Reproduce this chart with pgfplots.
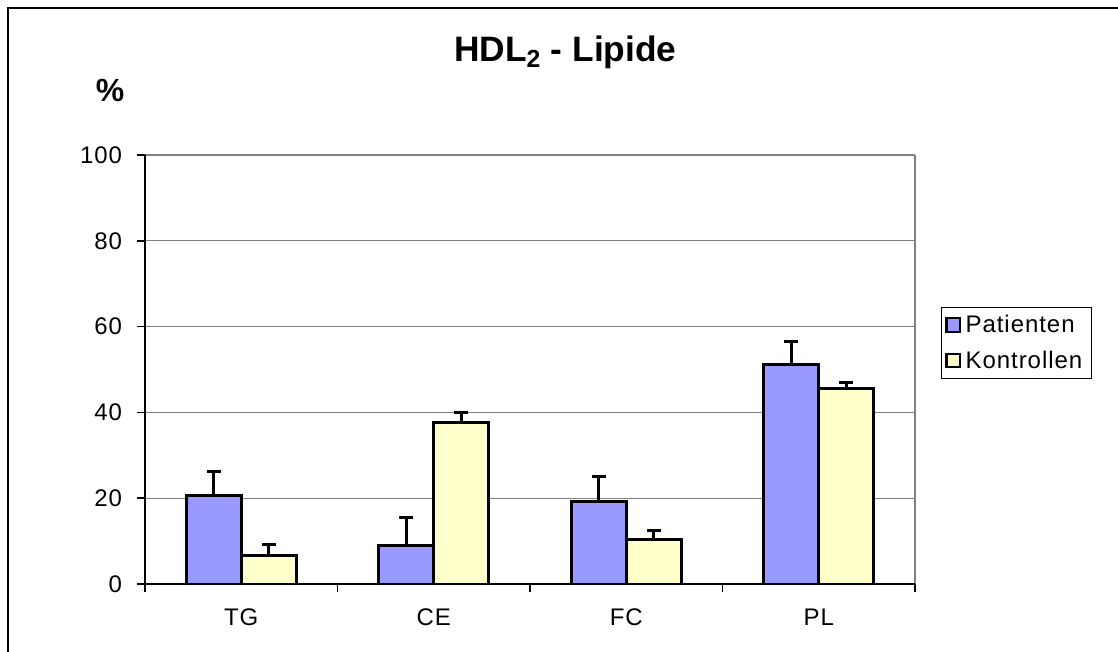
\documentclass[border=0pt]{standalone}
\usepackage{fontspec}
\setmainfont{Liberation Sans}
\newfontfamily\lsp{Liberation Sans}[LetterSpace=4]
\usepackage{pgfplots}
\usepackage{pgfplotstable}
\pgfplotsset{compat=1.18}
\definecolor{pat}{HTML}{9999FF}
\definecolor{kon}{HTML}{FFFFCC}
\definecolor{gridg}{HTML}{808080}

\pgfplotstableread{
x p pe k ke
0 20.6 5.6 6.6 2.6
1 8.9 6.6 37.7 2.3
2 19.2 5.8 10.3 2.1
3 51.2 5.4 45.5 1.5
}\data

\begin{document}
\begin{tikzpicture}
\useasboundingbox (0,0) rectangle (838.5pt,489pt);
\draw[line width=1.5pt] (6pt,0pt) -- (6pt,483pt) -- (838.5pt,483pt);
\node[anchor=base, font=\bfseries\fontsize{26.5}{30}\selectfont, inner sep=0pt] at (424pt,442.5pt) {HDL\textsubscript{2} - Lipide};
\node[anchor=base, font=\bfseries\fontsize{24}{28}\selectfont, inner sep=0pt] at (82.5pt,412.7pt) {\%};
\begin{axis}[
  at={(108.75pt,51pt)}, anchor=south west,
  scale only axis, width=577.5pt, height=321.75pt,
  xmin=-0.5, xmax=3.5, ymin=0, ymax=100,
  ybar=0pt, bar width=41.25pt,
  xtick={0,1,2,3}, xticklabels={TG,CE,FC,PL},
  minor xtick={-0.5,0.5,1.5,2.5,3.5},
  ytick={0,20,...,100},
  /pgf/number format/assume math mode=true,
  tick align=outside, tick pos=left,
  major tick length=6pt, minor tick length=6pt,
  major x tick style={draw=none},
  tick style={black, line width=1.1pt},
  ymajorgrids, grid style={gridg, line width=1pt},
  axis line style={draw=none},
  ticklabel style={font=\lsp\fontsize{18}{20}\selectfont},
  yticklabel style={anchor=east, inner sep=0pt, xshift=-11pt},
  xticklabel style={anchor=base, inner sep=0pt, yshift=-25pt},
  legend style={at={(1.0338,0.6457)}, anchor=north west, draw=black, line width=0.6pt,
    font=\lsp\fontsize{18}{21}\selectfont, inner xsep=3pt, inner ysep=4pt, row sep=8pt,
    nodes={inner xsep=3.5pt}},
  legend cell align=left,
  legend image code/.code={\draw[#1, draw=black, line width=1.6pt] (0pt,-5pt) rectangle (10pt,5pt);},
  clip=false,
]
\addplot[fill=pat, draw=black, line width=2pt,
  error bars/.cd, y dir=plus, y explicit,
  error bar style={line width=2pt, black},
  error mark options={rotate=90, line width=2pt, mark size=5.25pt, black}]
  table[x=x, y=p, y error=pe] {\data};
\addlegendentry{Patienten}
\addplot[fill=kon, draw=black, line width=2pt,
  error bars/.cd, y dir=plus, y explicit,
  error bar style={line width=2pt, black},
  error mark options={rotate=90, line width=2pt, mark size=5.25pt, black}]
  table[x=x, y=k, y error=ke] {\data};
\addlegendentry{Kontrollen}
\draw[gridg, line width=1.6pt] (rel axis cs:1,0) -- (rel axis cs:1,1);
\draw[black, line width=1.1pt] (rel axis cs:0,0) -- (rel axis cs:0,1);
\draw[black, line width=1.1pt] (rel axis cs:0,0) -- (rel axis cs:1,0);
\end{axis}
\end{tikzpicture}
\end{document}
